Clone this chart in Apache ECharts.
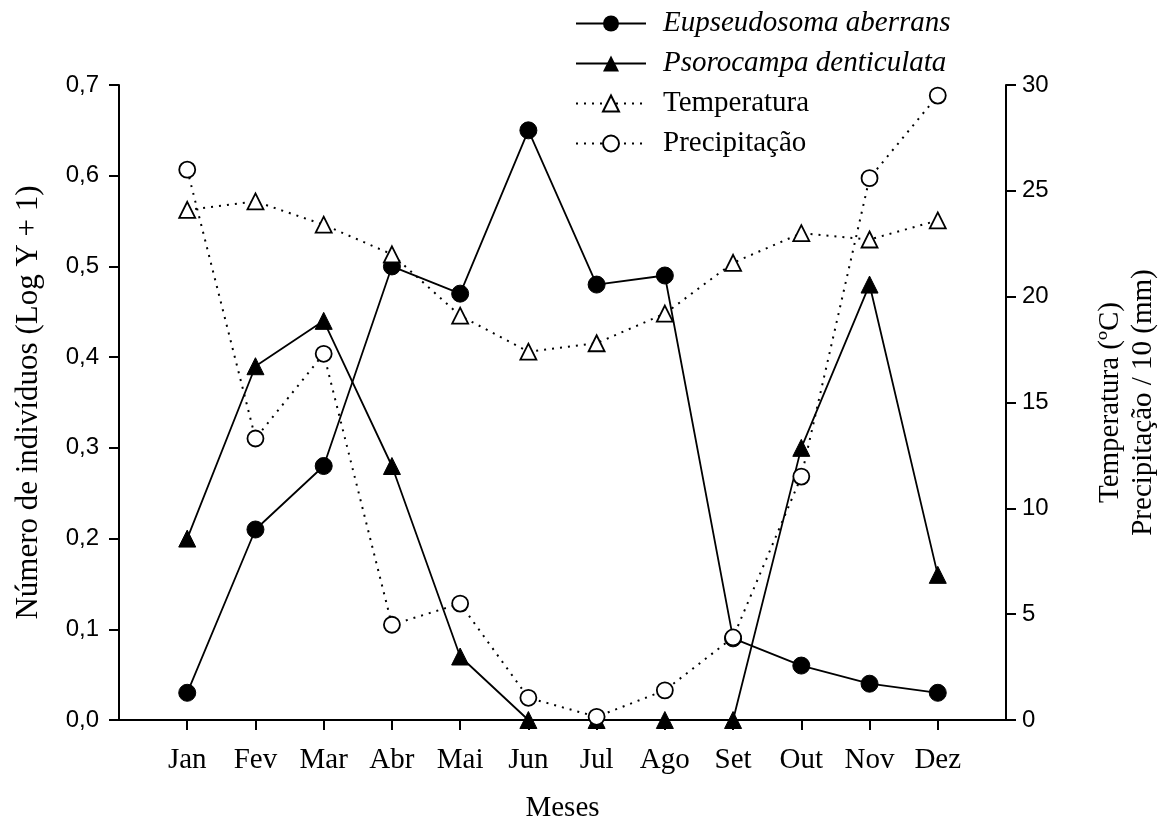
<!DOCTYPE html>
<html>
<head>
<meta charset="utf-8">
<script src="https://cdn.jsdelivr.net/npm/echarts@6/dist/echarts.min.js"></script>
<style>
html,body{margin:0;padding:0;background:#fff;}
#chart{width:1168px;height:832px;}
</style>
</head>
<body>
<div id="chart"></div>
<script>
// Data
var months = ['Jan','Fev','Mar','Abr','Mai','Jun','Jul','Ago','Set','Out','Nov','Dez'];
var eupseudosoma = [0.03, 0.21, 0.28, 0.50, 0.47, 0.65, 0.48, 0.49, 0.09, 0.06, 0.04, 0.03];
var psorocampa = [0.20, 0.39, 0.44, 0.28, 0.07, 0.00, 0.00, 0.00, 0.00, 0.30, 0.48, 0.16];
var temperatura = [24.1, 24.5, 23.4, 22.0, 19.1, 17.4, 17.8, 19.2, 21.6, 23.0, 22.7, 23.6];
var precipitacao = [26.0, 13.3, 17.3, 4.5, 5.5, 1.05, 0.15, 1.4, 3.9, 11.5, 25.6, 29.5];
var leftTicks = [0, 0.1, 0.2, 0.3, 0.4, 0.5, 0.6, 0.7];
var rightTicks = [0, 5, 10, 15, 20, 25, 30];

function pairs(arr){ return arr.map(function(v,i){ return [i+1, v]; }); }
var monthPos = months.map(function(m,i){ return i+1; });

var serif = "'Liberation Serif', 'Times New Roman', serif";
var sans = "'Liberation Sans', Arial, sans-serif";
var black = '#000';

var chart = echarts.init(document.getElementById('chart'), null, {renderer:'canvas'});
var option = {
  backgroundColor: '#fff',
  animation: false,
  grid: {left: 119, right: 143, top: 85, bottom: 112, containLabel: false},
  legend: {
    orient: 'vertical',
    left: 570,
    top: 4,
    itemWidth: 70,
    itemHeight: 20,
    itemGap: 11,
    data: ['Eupseudosoma aberrans','Psorocampa denticulata','Temperatura','Precipitação'],
    formatter: function(name){
      return (name === 'Temperatura' || name === 'Precipitação') ? '{n|' + name + '}' : '{i|' + name + '}';
    },
    textStyle: {
      color: black, fontFamily: serif, fontSize: 29, padding: [0,0,0,12],
      rich: {
        i: {fontFamily: serif, fontSize: 29, fontStyle: 'italic', color: black},
        n: {fontFamily: serif, fontSize: 29, color: black}
      }
    }
  },
  xAxis: {
    type: 'value',
    min: 0, max: 13, interval: 1,
    name: 'Meses',
    nameLocation: 'middle',
    nameGap: 74,
    nameTextStyle: {fontFamily: serif, fontSize: 29, color: black},
    axisLine: {show: true, lineStyle: {color: black, width: 2}},
    axisTick: {show: true, inside: false, length: 10, customValues: monthPos, lineStyle: {color: black, width: 2}},
    axisLabel: {
      customValues: monthPos,
      margin: 26,
      fontFamily: serif, fontSize: 29, color: black,
      formatter: function(v){ return months[Math.round(v)-1] || ''; }
    },
    splitLine: {show: false}
  },
  yAxis: [
    {
      type: 'value', position: 'left',
      min: 0, max: 0.7, interval: 0.1,
      name: 'Número de indivíduos (Log Y + 1)',
      nameLocation: 'middle', nameRotate: 90, nameGap: 75,
      nameTextStyle: {fontFamily: serif, fontSize: 31, color: black},
      axisLine: {show: true, lineStyle: {color: black, width: 2}},
      axisTick: {show: true, inside: false, length: 10, lineStyle: {color: black, width: 2}},
      axisLabel: {
        margin: 20, fontFamily: sans, fontSize: 24, color: black,
        formatter: function(v){ return v.toFixed(1).replace('.', ','); }
      },
      splitLine: {show: false}
    },
    {
      type: 'value', position: 'right',
      min: 0, max: 30, interval: 5,
      name: 'Temperatura (ºC)\nPrecipitação / 10 (mm)',
      nameLocation: 'middle', nameRotate: 90, nameGap: 88,
      nameTextStyle: {fontFamily: serif, fontSize: 29, color: black, lineHeight: 33, align: 'center'},
      axisLine: {show: true, lineStyle: {color: black, width: 2}},
      axisTick: {show: true, inside: false, length: 10, lineStyle: {color: black, width: 2}},
      axisLabel: {margin: 16, fontFamily: sans, fontSize: 24, color: black},
      splitLine: {show: false}
    }
  ],
  series: [
    {
      name: 'Eupseudosoma aberrans', type: 'line', yAxisIndex: 0,
      data: pairs(eupseudosoma), clip: false,
      symbol: 'circle', symbolSize: 17,
      itemStyle: {color: black, borderColor: black},
      lineStyle: {color: black, width: 1.8, type: 'solid'}
    },
    {
      name: 'Psorocampa denticulata', type: 'line', yAxisIndex: 0,
      data: pairs(psorocampa), clip: false,
      symbol: 'triangle', symbolSize: 17,
      itemStyle: {color: black, borderColor: black},
      lineStyle: {color: black, width: 1.8, type: 'solid'}
    },
    {
      name: 'Temperatura', type: 'line', yAxisIndex: 1,
      data: pairs(temperatura), clip: false,
      symbol: 'triangle', symbolSize: 16,
      itemStyle: {color: '#fff', borderColor: black, borderWidth: 1.8},
      lineStyle: {color: black, width: 2, type: [2, 6]}
    },
    {
      name: 'Precipitação', type: 'line', yAxisIndex: 1,
      data: pairs(precipitacao), clip: false,
      symbol: 'circle', symbolSize: 16,
      itemStyle: {color: '#fff', borderColor: black, borderWidth: 1.8},
      lineStyle: {color: black, width: 2, type: [2, 6]}
    }
  ]
};
chart.setOption(option);
</script>
</body>
</html>
